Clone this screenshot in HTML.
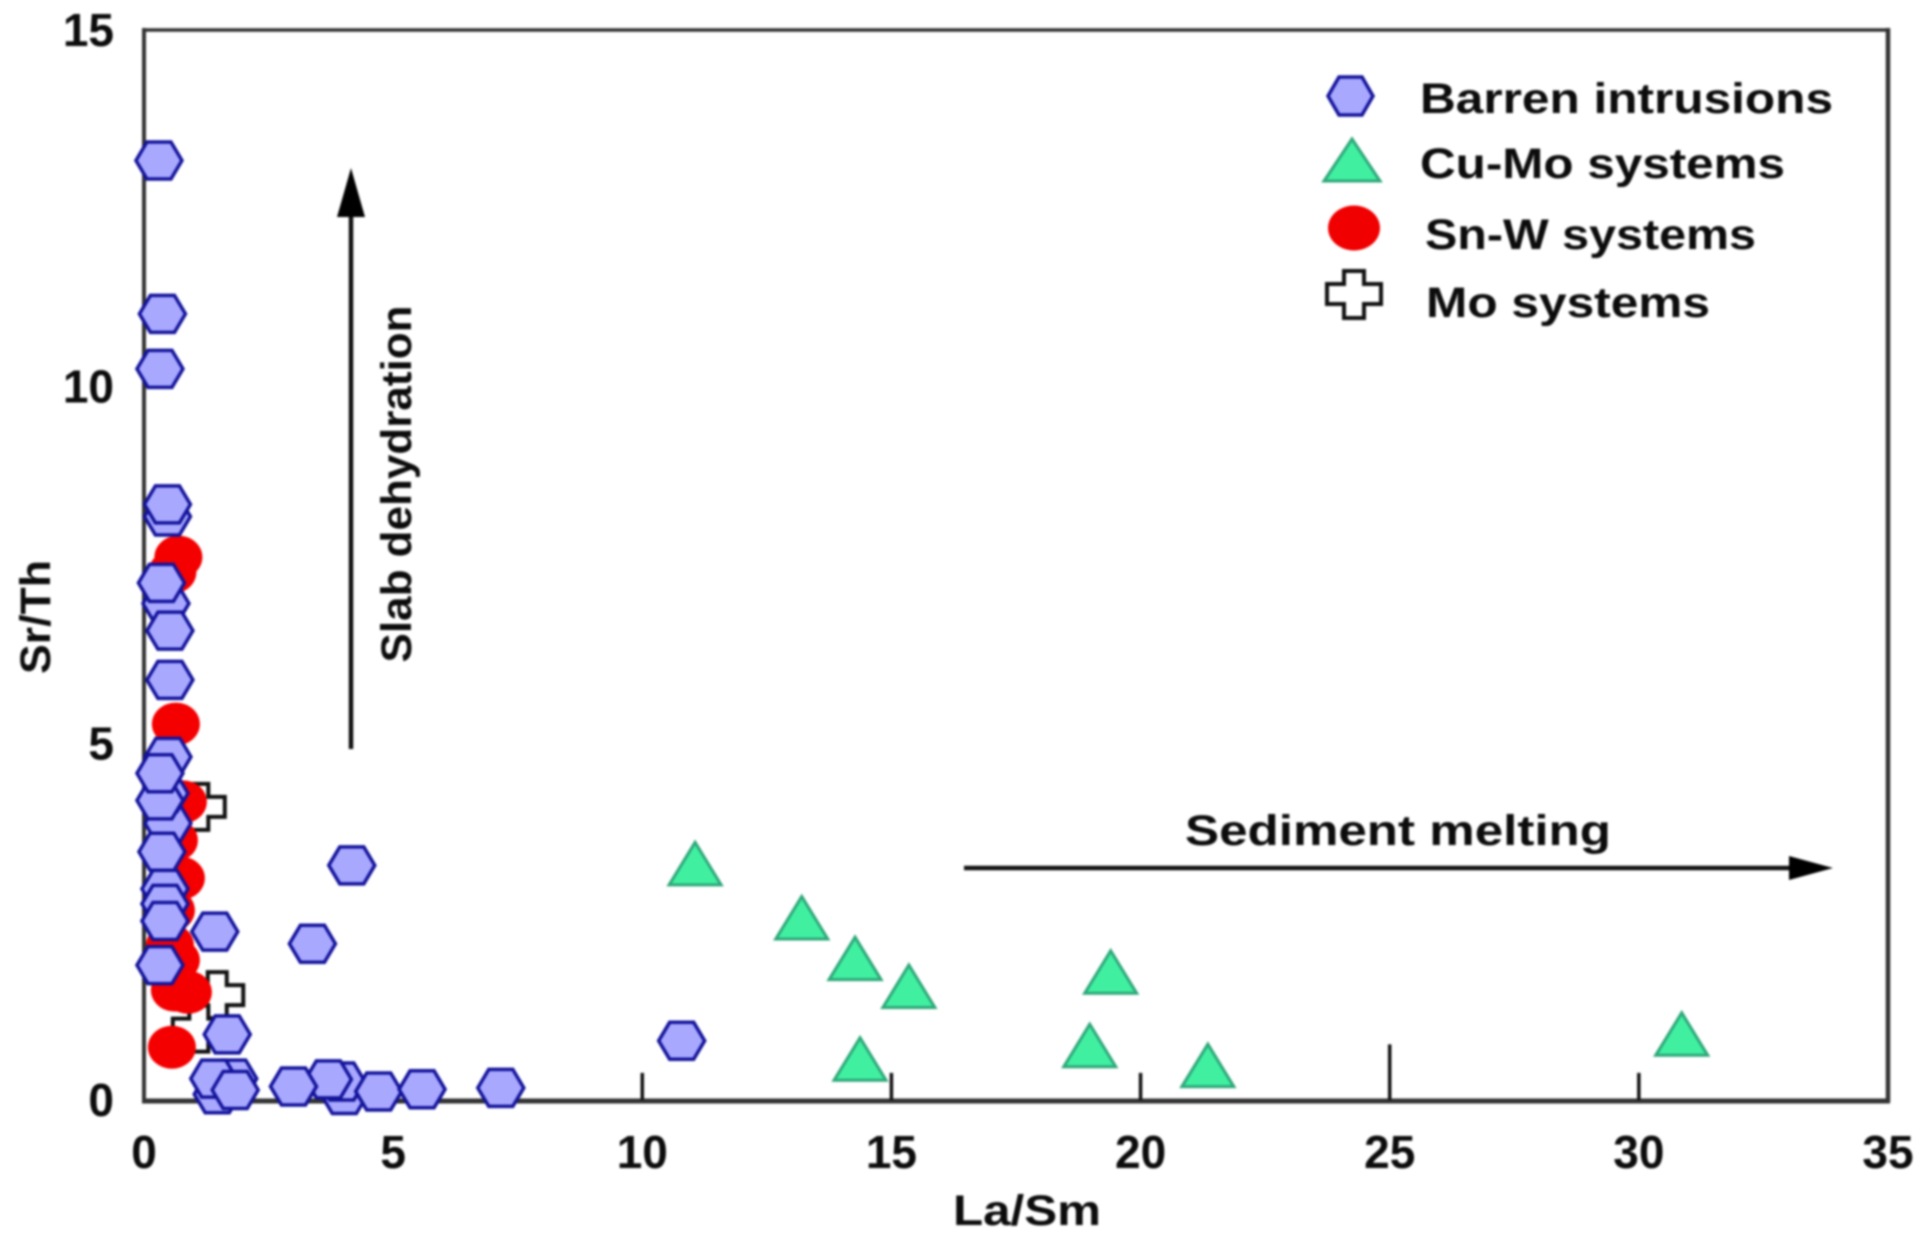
<!DOCTYPE html>
<html lang="en">
<head>
<meta charset="utf-8">
<title>Sr/Th versus La/Sm scatter plot</title>
<style>
html,body{margin:0;padding:0;background:#fff;width:1928px;height:1244px;overflow:hidden}
svg{display:block;filter:blur(1px)}
text{font-family:"Liberation Sans",sans-serif;font-weight:700;fill:#0c0c0c}
</style>
</head>
<body>
<svg id="chart" xmlns="http://www.w3.org/2000/svg" width="1928" height="1244" viewBox="0 0 1928 1244">
  <rect width="1928" height="1244" fill="#fff"/>
  <g id="frame">
    <line x1="144" y1="28" x2="144" y2="1102" stroke="#333" stroke-width="4"/>
    <line x1="142" y1="30" x2="1889" y2="30" stroke="#333" stroke-width="3.5"/>
    <line x1="1888" y1="28" x2="1888" y2="1102" stroke="#333" stroke-width="4.5"/>
    <line x1="142" y1="1101" x2="1890" y2="1101" stroke="#333" stroke-width="5"/>
  </g>
  <g id="x-labels"></g>
  <g id="y-labels"></g>
  <text x="1027" y="1225" text-anchor="middle" font-size="43" textLength="148" lengthAdjust="spacingAndGlyphs">La/Sm</text>
  <text transform="translate(50,617) rotate(-90)" text-anchor="middle" font-size="43" textLength="114" lengthAdjust="spacingAndGlyphs">Sr/Th</text>
  <g id="series-mo"></g>
  <g id="series-snw"></g>
  <g id="series-barren"></g>
  <g id="series-cumo"></g>
  <g id="ticks"></g>
  <g>
    <line x1="351" y1="749" x2="351" y2="210" stroke="#111" stroke-width="4.5"/>
    <polygon points="351,168 337,217 365,217" fill="#000"/>
    <text transform="translate(411,484) rotate(-90)" text-anchor="middle" font-size="43" textLength="357" lengthAdjust="spacingAndGlyphs">Slab dehydration</text>
  </g>
  <g>
    <line x1="964" y1="868" x2="1795" y2="868" stroke="#111" stroke-width="4.5"/>
    <polygon points="1833,868 1789,856 1789,880" fill="#000"/>
    <text x="1185" y="845" font-size="43" textLength="426" lengthAdjust="spacingAndGlyphs">Sediment melting</text>
  </g>
  <g>
    <g>
      <polygon points="1328,96 1339,77 1362,77 1373,96 1362,115 1339,115" fill="#a8a8ff" stroke="#14149c" stroke-width="3.5"/>
      <text x="1420" y="113" font-size="43" textLength="413" lengthAdjust="spacingAndGlyphs">Barren intrusions</text>
    </g>
    <g>
      <polygon points="1352,139 1324,181 1380,181" fill="#40f0a0" stroke="#2ea87a" stroke-width="3"/>
      <text x="1420" y="178" font-size="43" textLength="365" lengthAdjust="spacingAndGlyphs">Cu-Mo systems</text>
    </g>
    <g>
      <ellipse cx="1354" cy="228" rx="26" ry="22.5" fill="#f00000"/>
      <text x="1425" y="249" font-size="43" textLength="331" lengthAdjust="spacingAndGlyphs">Sn-W systems</text>
    </g>
    <g>
      <polygon points="1344,271 1364,271 1364,284 1381,284 1381,304 1364,304 1364,318 1344,318 1344,304 1327,304 1327,284 1344,284" fill="#fff" stroke="#111" stroke-width="4"/>
      <text x="1426" y="317" font-size="43" textLength="284" lengthAdjust="spacingAndGlyphs">Mo systems</text>
    </g>
  </g>
</svg>
<script>
const xTickLabels = [0, 5, 10, 15, 20, 25, 30, 35];
const yTickLabels = [0, 5, 10, 15];
const barrenX = [0.30, 0.37, 0.32, 0.47, 0.47, 0.44, 0.52, 0.52, 0.48, 0.48, 0.42, 0.32, 0.32, 0.36, 0.42, 0.42, 0.42, 1.42, 0.32, 3.38, 4.17, 4.02, 3.97, 3.70, 3.00, 4.71, 5.58, 7.16, 10.79, 1.67, 1.80, 1.47, 1.40, 1.83, 0.35];
const barrenY = [13.17, 11.02, 10.25, 8.18, 8.35, 6.96, 6.58, 5.89, 3.88, 4.81, 4.30, 4.20, 4.58, 3.48, 2.96, 2.75, 2.51, 2.36, 1.89, 2.19, 3.29, 0.07, 0.26, 0.29, 0.19, 0.12, 0.15, 0.17, 0.83, 0.92, 0.30, 0.08, 0.30, 0.14, 7.25];
const cuMoX = [11.06, 13.20, 14.27, 15.35, 19.40, 14.37, 18.98, 21.35, 30.86];
const cuMoY = [3.29, 2.53, 1.96, 1.57, 1.77, 0.55, 0.74, 0.46, 0.90];
const snWX = [0.69, 0.57, 0.64, 0.78, 0.60, 0.74, 0.54, 0.52, 0.64, 0.62, 0.88, 0.56];
const snWY = [7.61, 7.40, 5.27, 4.18, 3.64, 3.11, 2.66, 2.17, 1.96, 1.54, 1.51, 0.74];
const moX = [1.10, 1.47, 1.10];
const moY = [4.11, 1.47, 1.00];
const longTicks = [10, 15, 20, 25, 30];
const tickHeights = [0.38, 0.38, 0.38, 0.78, 0.38];

const SVG_NS = 'http://www.w3.org/2000/svg';
const xScale = v => 144 + v * (1888 - 144) / 35;
const yScale = v => 1100 - v * (1100 - 30) / 15;

function make(tag, parent, attrs) {
  const el = document.createElementNS(SVG_NS, tag);
  for (const k in attrs) el.setAttribute(k, attrs[k]);
  parent.appendChild(el);
  return el;
}
const hexPoints = (cx, cy) => {
  const w = 23, s = 12, h = 18.5;
  return [[cx - w, cy], [cx - s, cy - h], [cx + s, cy - h], [cx + w, cy], [cx + s, cy + h], [cx - s, cy + h]].map(p => p.join(',')).join(' ');
};
const triPoints = (cx, cy) => [[cx, cy - 23], [cx - 26, cy + 19.5], [cx + 26, cy + 19.5]].map(p => p.join(',')).join(' ');
const crossPoints = (cx, cy) => {
  const ax = 9.5, ay = 10, bx = 26, by = 23;
  return [[cx - ax, cy - by], [cx + ax, cy - by], [cx + ax, cy - ay], [cx + bx, cy - ay], [cx + bx, cy + ay], [cx + ax, cy + ay], [cx + ax, cy + by], [cx - ax, cy + by], [cx - ax, cy + ay], [cx - bx, cy + ay], [cx - bx, cy - ay], [cx - ax, cy - ay]].map(p => p.join(',')).join(' ');
};

const ticksG = document.getElementById('ticks');
longTicks.forEach((t, i) => {
  const el = make('line', ticksG, { x1: xScale(t), x2: xScale(t), y1: 1100, y2: yScale(tickHeights[i]), stroke: '#111', 'stroke-width': 3.5 });
  
  
});

const xLabelsG = document.getElementById('x-labels');
xTickLabels.forEach(t => {
  const el = make('text', xLabelsG, { x: xScale(t), y: 1168, 'text-anchor': 'middle', 'font-size': 46 });
  el.textContent = t;
  
  
});

const yLabelsG = document.getElementById('y-labels');
yTickLabels.forEach(t => {
  const el = make('text', yLabelsG, { x: 114, y: yScale(t) + 16, 'text-anchor': 'end', 'font-size': 46 });
  el.textContent = t;
  
  
});

const moG = document.getElementById('series-mo');
moX.forEach((x, i) => {
  const el = make('polygon', moG, { points: crossPoints(xScale(x), yScale(moY[i])), fill: '#fff', stroke: '#111', 'stroke-width': 4 });
  
  
});

const snWG = document.getElementById('series-snw');
snWX.forEach((x, i) => {
  const el = make('ellipse', snWG, { cx: xScale(x), cy: yScale(snWY[i]), rx: 24, ry: 21.5, fill: '#f40000' });
  
  
});

const barrenG = document.getElementById('series-barren');
barrenX.forEach((x, i) => {
  const el = make('polygon', barrenG, { points: hexPoints(xScale(x), yScale(barrenY[i])), fill: '#a8a8ff', stroke: '#14149c', 'stroke-width': 3.5 });
  
  
});

const cuMoG = document.getElementById('series-cumo');
cuMoX.forEach((x, i) => {
  const el = make('polygon', cuMoG, { points: triPoints(xScale(x), yScale(cuMoY[i])), fill: '#40f0a0', stroke: '#2ea87a', 'stroke-width': 3 });
  
  
});
</script>
</body>
</html>
